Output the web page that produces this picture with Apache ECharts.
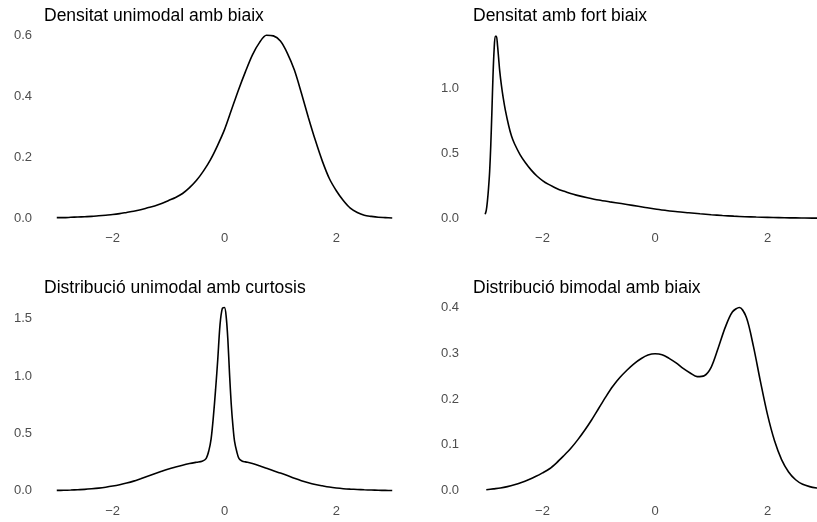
<!DOCTYPE html>
<html>
<head>
<meta charset="utf-8">
<script src="https://cdn.jsdelivr.net/npm/echarts@6/dist/echarts.min.js"></script>
<style>
html,body{margin:0;padding:0;background:#fff;}
#chart{width:817px;height:522px;}
</style>
</head>
<body>
<div id="chart"></div>
<script>
// Panel titles
var titles = ["Densitat unimodal amb biaix", "Densitat amb fort biaix", "Distribució unimodal amb curtosis", "Distribució bimodal amb biaix"];

// Tick labels
var xTicks = [-2, 0, 2];
var yTicks1 = [0, 0.2, 0.4, 0.6];
var yTicks2 = [0, 0.5, 1.0];
var yTicks3 = [0, 0.5, 1.0, 1.5];
var yTicks4 = [0, 0.1, 0.2, 0.3, 0.4];

// Panel 1: unimodal with skew
var p1X = [-3.0, -2.875, -2.75, -2.625, -2.5, -2.375, -2.25, -2.125, -2.0, -1.875, -1.75, -1.625, -1.5, -1.375, -1.25, -1.125, -1.0, -0.875, -0.75, -0.625, -0.5, -0.375, -0.25, -0.125, 0.0, 0.125, 0.25, 0.375, 0.5, 0.625, 0.75, 0.875, 1.0, 1.125, 1.25, 1.375, 1.5, 1.625, 1.75, 1.875, 2.0, 2.125, 2.25, 2.375, 2.5, 2.625, 2.75, 2.875, 3.0];
var p1Y = [0.002, 0.002, 0.003, 0.004, 0.005, 0.006, 0.008, 0.010, 0.012, 0.015, 0.019, 0.023, 0.028, 0.034, 0.040, 0.048, 0.058, 0.068, 0.081, 0.100, 0.124, 0.155, 0.192, 0.238, 0.29, 0.355, 0.42, 0.48, 0.535, 0.575, 0.599, 0.597, 0.58, 0.54, 0.485, 0.41, 0.33, 0.255, 0.187, 0.13, 0.09, 0.058, 0.033, 0.019, 0.01, 0.006, 0.003, 0.002, 0.001];

// Panel 2: strong skew
var p2X = [-3.02, -3.0, -2.98, -2.96, -2.94, -2.92, -2.90, -2.88, -2.86, -2.84, -2.82, -2.80, -2.78, -2.76, -2.73, -2.70, -2.66, -2.60, -2.55, -2.5, -2.4, -2.3, -2.2, -2.1, -2.0, -1.9, -1.8, -1.7, -1.6, -1.5, -1.4, -1.2, -1.0, -0.8, -0.6, -0.4, -0.2, 0.0, 0.2, 0.4, 0.6, 0.8, 1.0, 1.2, 1.4, 1.6, 1.8, 2.0, 2.2, 2.4, 2.6, 2.8, 3.0];
var p2Y = [0.03, 0.06, 0.13, 0.23, 0.36, 0.56, 0.82, 1.10, 1.30, 1.40, 1.40, 1.33, 1.23, 1.13, 1.02, 0.93, 0.83, 0.71, 0.63, 0.575, 0.49, 0.425, 0.37, 0.325, 0.29, 0.262, 0.24, 0.22, 0.205, 0.19, 0.178, 0.158, 0.14, 0.126, 0.113, 0.099, 0.085, 0.071, 0.06, 0.05, 0.042, 0.034, 0.027, 0.021, 0.016, 0.012, 0.009, 0.007, 0.005, 0.003, 0.002, 0.001, 0.001];

// Panel 3: unimodal with kurtosis
var p3X = [-3.0, -2.875, -2.75, -2.625, -2.5, -2.375, -2.25, -2.125, -2.0, -1.875, -1.75, -1.625, -1.5, -1.375, -1.25, -1.125, -1.0, -0.875, -0.75, -0.625, -0.5, -0.4, -0.33, -0.28, -0.24, -0.2, -0.16, -0.12, -0.08, -0.04, 0.0, 0.03, 0.06, 0.09, 0.12, 0.15, 0.18, 0.22, 0.26, 0.32, 0.375, 0.5, 0.625, 0.75, 0.875, 1.0, 1.125, 1.25, 1.375, 1.5, 1.625, 1.75, 1.875, 2.0, 2.125, 2.25, 2.375, 2.5, 2.625, 2.75, 2.875, 3.0];
var p3Y = [0.003, 0.004, 0.006, 0.009, 0.012, 0.017, 0.023, 0.031, 0.041, 0.053, 0.067, 0.084, 0.105, 0.127, 0.149, 0.17, 0.19, 0.207, 0.223, 0.237, 0.249, 0.258, 0.28, 0.35, 0.45, 0.64, 0.88, 1.15, 1.45, 1.59, 1.60, 1.52, 1.32, 1.02, 0.76, 0.57, 0.43, 0.34, 0.28, 0.258, 0.252, 0.238, 0.218, 0.196, 0.174, 0.154, 0.132, 0.109, 0.088, 0.07, 0.055, 0.043, 0.032, 0.024, 0.018, 0.014, 0.011, 0.008, 0.006, 0.004, 0.003, 0.002];

// Panel 4: bimodal with skew
var p4X = [-3.0, -2.875, -2.75, -2.625, -2.5, -2.375, -2.25, -2.125, -2.0, -1.875, -1.75, -1.625, -1.5, -1.375, -1.25, -1.125, -1.0, -0.875, -0.75, -0.625, -0.5, -0.375, -0.25, -0.125, 0.0, 0.125, 0.25, 0.375, 0.5, 0.625, 0.75, 0.875, 1.0, 1.125, 1.25, 1.375, 1.5, 1.625, 1.75, 1.875, 2.0, 2.125, 2.25, 2.375, 2.5, 2.625, 2.75, 2.875, 3.0];
var p4Y = [0.002, 0.004, 0.006, 0.009, 0.013, 0.018, 0.024, 0.031, 0.039, 0.048, 0.061, 0.076, 0.092, 0.111, 0.132, 0.155, 0.18, 0.205, 0.228, 0.247, 0.263, 0.277, 0.288, 0.296, 0.299, 0.297, 0.289, 0.279, 0.267, 0.257, 0.249, 0.251, 0.270, 0.312, 0.357, 0.39, 0.40, 0.378, 0.315, 0.238, 0.166, 0.109, 0.068, 0.041, 0.024, 0.014, 0.009, 0.006, 0.004];

function pairs(xs, ys) { return xs.map(function (x, i) { return [x, ys[i]]; }); }

var FONT = "'Liberation Sans', Arial, sans-serif";
var AXIS_COLOR = '#4d4d4d';

// Right-hand panels are cut by the image's right edge (as in the reference).
var panels = [
  { left: 40, top: 25.8, width: 369, xr: [-3.3, 3.3], yr: [-0.03, 0.63], yt: yTicks1, data: pairs(p1X, p1Y), ym: 8 },
  { left: 469, top: 25.8, width: 348, xr: [-3.307, 2.88], yr: [-0.0705, 1.4805], yt: yTicks2, data: pairs(p2X, p2Y), ym: 10 },
  { left: 40, top: 298.3, width: 369, xr: [-3.3, 3.3], yr: [-0.08, 1.68], yt: yTicks3, data: pairs(p3X, p3Y), ym: 8 },
  { left: 469, top: 298.3, width: 348, xr: [-3.307, 2.88], yr: [-0.02, 0.42], yt: yTicks4, data: pairs(p4X, p4Y), ym: 10 }
];
var H = 201.6;

var option = {
  animation: false,
  backgroundColor: '#ffffff',
  title: panels.map(function (p, i) {
    return {
      text: titles[i], left: p.left - 1, top: p.top - 24,
      textStyle: { fontFamily: FONT, fontSize: 17.5, fontWeight: 'normal', color: '#000000' }
    };
  }),
  grid: panels.map(function (p) {
    return { left: p.left, top: p.top, width: p.width, height: H, containLabel: false };
  }),
  xAxis: panels.map(function (p, i) {
    return {
      type: 'value', gridIndex: i, min: p.xr[0], max: p.xr[1],
      axisLine: { show: false }, axisTick: { show: false }, splitLine: { show: false },
      axisLabel: {
        customValues: xTicks, margin: 5, color: AXIS_COLOR, fontFamily: FONT, fontSize: 13,
        formatter: function (v) { return String(v).replace('-', '\u2212'); }
      }
    };
  }),
  yAxis: panels.map(function (p, i) {
    return {
      type: 'value', gridIndex: i, min: p.yr[0], max: p.yr[1],
      axisLine: { show: false }, axisTick: { show: false }, splitLine: { show: false },
      axisLabel: {
        customValues: p.yt, margin: p.ym, color: AXIS_COLOR, fontFamily: FONT, fontSize: 13,
        formatter: function (v) { return Number(v).toFixed(1); }
      }
    };
  }),
  series: panels.map(function (p, i) {
    return {
      type: 'line', xAxisIndex: i, yAxisIndex: i, data: p.data,
      showSymbol: false, smooth: 0.3, silent: true, clip: true,
      lineStyle: { color: '#000000', width: 1.6 }
    };
  })
};

var chart = echarts.init(document.getElementById('chart'), null, { renderer: 'canvas' });
chart.setOption(option);
</script>
</body>
</html>
